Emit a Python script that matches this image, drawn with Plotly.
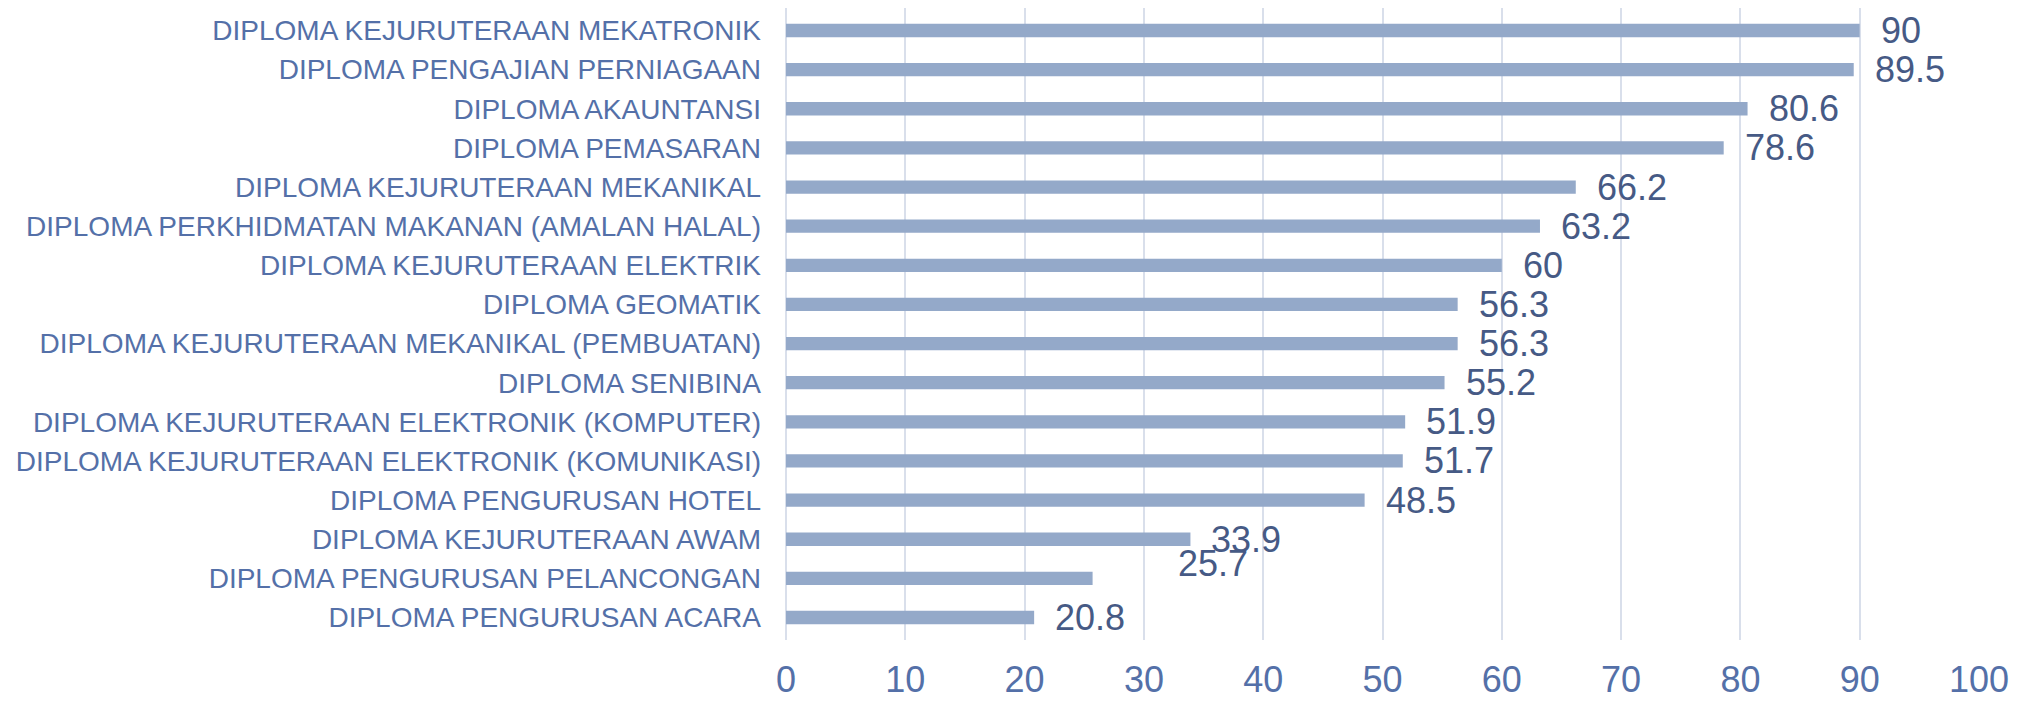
import plotly.graph_objects as go

categories = [
    "DIPLOMA KEJURUTERAAN MEKATRONIK",
    "DIPLOMA PENGAJIAN PERNIAGAAN",
    "DIPLOMA AKAUNTANSI",
    "DIPLOMA PEMASARAN",
    "DIPLOMA KEJURUTERAAN MEKANIKAL",
    "DIPLOMA PERKHIDMATAN MAKANAN (AMALAN HALAL)",
    "DIPLOMA KEJURUTERAAN ELEKTRIK",
    "DIPLOMA GEOMATIK",
    "DIPLOMA KEJURUTERAAN MEKANIKAL (PEMBUATAN)",
    "DIPLOMA SENIBINA",
    "DIPLOMA KEJURUTERAAN ELEKTRONIK (KOMPUTER)",
    "DIPLOMA KEJURUTERAAN ELEKTRONIK (KOMUNIKASI)",
    "DIPLOMA PENGURUSAN HOTEL",
    "DIPLOMA KEJURUTERAAN AWAM",
    "DIPLOMA PENGURUSAN PELANCONGAN",
    "DIPLOMA PENGURUSAN ACARA",
]
values = [90, 89.5, 80.6, 78.6, 66.2, 63.2, 60, 56.3, 56.3, 55.2, 51.9, 51.7, 48.5, 33.9, 25.7, 20.8]
x_ticks = [0, 10, 20, 30, 40, 50, 60, 70, 80, 90, 100]

FONT = "Arial, 'Liberation Sans', sans-serif"
BAR_COLOR = "#94A9C9"
CAT_COLOR = "#5470A8"
LABEL_COLOR = "#465A85"
GRID_COLOR = "#D9DFEB"

# label placement tweaks (pixels), mimicking the original's displaced label
label_shift = {"DIPLOMA PENGURUSAN PELANCONGAN": (83, 15)}

fig = go.Figure(go.Bar(
    x=values, y=categories, orientation="h",
    marker=dict(color=BAR_COLOR, line=dict(width=0)),
    width=0.34,
))

for c, v in zip(categories, values):
    dx, dy = label_shift.get(c, (19, 0))
    fig.add_annotation(
        x=v, y=c, text=f"{v:g}", showarrow=False,
        xanchor="left", yanchor="middle", xshift=dx, yshift=dy,
        font=dict(family=FONT, size=36, color=LABEL_COLOR),
    )

fig.update_layout(
    width=2033, height=703,
    margin=dict(l=786, r=54, t=8, b=63),
    plot_bgcolor="white", paper_bgcolor="white",
    showlegend=False,
)
fig.update_xaxes(
    range=[0, 100], tickvals=x_ticks, showgrid=True, gridcolor=GRID_COLOR, gridwidth=2,
    zeroline=True, zerolinecolor=GRID_COLOR, zerolinewidth=2,
    showline=False, ticks="", automargin=False,
    tickfont=dict(family=FONT, size=36, color=CAT_COLOR),
    ticklabelstandoff=15,
)
fig.update_yaxes(
    autorange="reversed", showgrid=False, showline=False, ticks="", automargin=False,
    tickfont=dict(family=FONT, size=28, color=CAT_COLOR),
    ticklabelstandoff=24,
)

fig.write_html(
    "out.html",
    config={"displayModeBar": False},
    post_script="document.body.style.margin='0';document.body.style.overflow='hidden';",
)
